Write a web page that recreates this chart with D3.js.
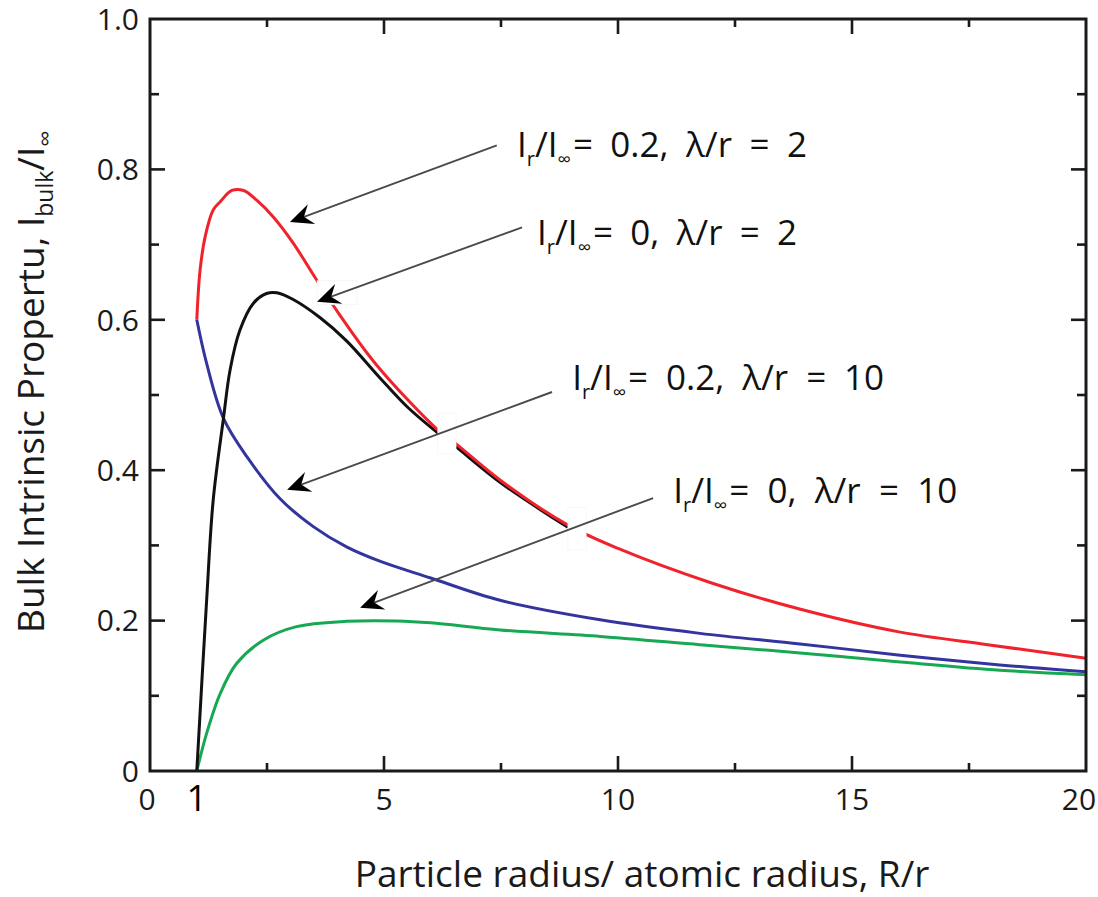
<!DOCTYPE html>
<html>
<head>
<meta charset="utf-8">
<script src="https://cdn.jsdelivr.net/npm/d3@7"></script>
<style>
  html, body { margin: 0; padding: 0; background: #fff; }
  svg { display: block; font-family: "Open Sans", "Noto Sans", sans-serif; }
</style>
</head>
<body>
<svg id="chart" width="1098" height="897"></svg>
<script>
// ---------- data ----------
const redX   = [1, 1.07, 1.18, 1.35, 1.5, 1.75, 2.0, 2.28, 2.63, 3.06, 3.56, 4.06, 4.84, 6.16, 6.52, 7.5, 8.93, 10.0, 12.0, 13.9, 16.0, 17.9, 20];
const redY   = [0.6, 0.666, 0.711, 0.746, 0.757, 0.772, 0.772, 0.759, 0.737, 0.702, 0.653, 0.606, 0.54, 0.453, 0.436, 0.386, 0.327, 0.296, 0.25, 0.215, 0.185, 0.168, 0.15];
const blackX = [1, 1.21, 1.35, 1.57, 1.71, 1.92, 2.21, 2.49, 2.71, 3.06, 3.63, 4.2, 4.91, 5.5, 6.16, 6.52, 7.5, 8.93];
const blackY = [0, 0.227, 0.36, 0.469, 0.533, 0.586, 0.622, 0.635, 0.636, 0.627, 0.603, 0.572, 0.523, 0.484, 0.449, 0.432, 0.383, 0.324];
const blueX  = [1, 1.21, 1.57, 2.07, 2.78, 3.49, 4.2, 4.91, 5.98, 7.48, 9.62, 11.75, 13.89, 16.03, 18.16, 20];
const blueY  = [0.6, 0.542, 0.469, 0.418, 0.362, 0.325, 0.298, 0.279, 0.257, 0.227, 0.201, 0.183, 0.169, 0.154, 0.141, 0.132];
const greenX = [1, 1.21, 1.5, 1.85, 2.42, 3.13, 4.2, 5.27, 6.0, 7.48, 9.62, 11.75, 13.89, 16.03, 18.16, 20];
const greenY = [0, 0.05, 0.103, 0.143, 0.174, 0.192, 0.199, 0.1995, 0.197, 0.1875, 0.179, 0.168, 0.157, 0.145, 0.134, 0.128];

const xTickLabels = ["0", "5", "10", "15", "20"];
const xTickValues = [0, 5, 10, 15, 20];
const yTickLabels = ["0", "0.2", "0.4", "0.6", "0.8", "1.0"];
const yTickValues = [0, 0.2, 0.4, 0.6, 0.8, 1.0];

// annotation labels
const annRatio  = ["0.2", "0", "0.2", "0"];
const annLambda = ["2", "2", "10", "10"];
const annX = [7.84, 8.27, 9.02, 11.18];
const annY = [0.816, 0.700, 0.507, 0.356];
// arrows (data coords): from -> to
const arrFromX = [7.41, 7.95, 8.59, 10.75];
const arrFromY = [0.832, 0.723, 0.504, 0.363];
const arrToX   = [2.99, 3.57, 2.93, 4.49];
const arrToY   = [0.730, 0.624, 0.374, 0.217];
// white masking boxes behind arrows (data coords)
const maskX0 = [6.15, 8.93, 3.57];
const maskX1 = [6.54, 9.32, 4.42];
const maskY0 = [0.4215, 0.294, 0.620];
const maskY1 = [0.476, 0.350, 0.652];

// ---------- layout ----------
const svg = d3.select("#chart");
const x = d3.scaleLinear().domain([0, 20]).range([150, 1086]);
const y = d3.scaleLinear().domain([0, 1]).range([771, 19]);
const frameColor = "#1a1a1a";
const textColor = "#1a1a1a";

// ---------- curves ----------
const line = d3.line().x(d => x(d[0])).y(d => y(d[1])).curve(d3.curveCatmullRom.alpha(0.5));
const series = [
  { xs: blueX,  ys: blueY,  color: "#34349e" },
  { xs: greenX, ys: greenY, color: "#17a853" },
  { xs: blackX, ys: blackY, color: "#111111" },
  { xs: redX,   ys: redY,   color: "#f0222c" }
];
series.forEach(s => {
  svg.append("path")
    .datum(d3.zip(s.xs, s.ys))
    .attr("d", line)
    .attr("fill", "none")
    .attr("stroke", s.color)
    .attr("stroke-width", 3)
    .attr("stroke-linejoin", "round");
});

// ---------- white masks ----------
maskX0.forEach((v, i) => {
  svg.append("rect")
    .attr("x", x(maskX0[i])).attr("y", y(maskY1[i]))
    .attr("width", x(maskX1[i]) - x(maskX0[i]))
    .attr("height", y(maskY0[i]) - y(maskY1[i]))
    .attr("fill", "#fff").attr("stroke", "#f2f2f2").attr("stroke-width", 0.6);
});

// ---------- frame & ticks ----------
const majorX = [5, 10, 15];
const minorX = [2.5, 7.5, 12.5, 17.5];
const majorY = [0.2, 0.4, 0.6, 0.8];
const minorY = [0.1, 0.3, 0.5, 0.7, 0.9];
const tickG = svg.append("g").attr("stroke", frameColor).attr("stroke-width", 2.6);
majorX.concat(minorX).forEach(v => {
  const len = majorX.includes(v) ? 15 : 8;
  tickG.append("line").attr("x1", x(v)).attr("x2", x(v)).attr("y1", y(0)).attr("y2", y(0) - len);
  tickG.append("line").attr("x1", x(v)).attr("x2", x(v)).attr("y1", y(1)).attr("y2", y(1) + len);
});
majorY.concat(minorY).forEach(v => {
  const len = majorY.includes(v) ? 15 : 9;
  tickG.append("line").attr("x1", x(0)).attr("x2", x(0) + len).attr("y1", y(v)).attr("y2", y(v));
  tickG.append("line").attr("x1", x(20)).attr("x2", x(20) - len).attr("y1", y(v)).attr("y2", y(v));
});
svg.append("rect")
  .attr("x", x(0)).attr("y", y(1))
  .attr("width", x(20) - x(0)).attr("height", y(0) - y(1))
  .attr("fill", "none").attr("stroke", frameColor).attr("stroke-width", 3);

// tick labels
const yLab = svg.append("g").attr("font-size", 30).attr("fill", textColor).attr("text-anchor", "end");
yTickValues.forEach((v, i) => {
  yLab.append("text").attr("x", 139).attr("y", y(v)).attr("dy", "0.36em").text(yTickLabels[i]);
});
const xLab = svg.append("g").attr("font-size", 30).attr("fill", textColor).attr("text-anchor", "middle");
xTickValues.forEach((v, i) => {
  let px = x(v);
  if (v === 0) px = x(0) - 3;
  if (v === 20) px = x(20) - 7;
  xLab.append("text").attr("x", px).attr("y", 810).text(xTickLabels[i]);
});
svg.append("text").attr("x", x(1)).attr("y", 811).attr("text-anchor", "middle")
  .attr("font-size", 36).attr("fill", "#000").text("1");

// axis titles
svg.append("text")
  .attr("x", 642).attr("y", 887)
  .attr("text-anchor", "middle").attr("font-size", 37).attr("fill", textColor)
  .text("Particle radius/ atomic radius, R/r");

const yt = svg.append("text")
  .attr("transform", `translate(44,633) rotate(-90)`)
  .attr("text-anchor", "start").attr("font-size", 37).attr("fill", textColor);
yt.append("tspan").text("Bulk Intrinsic Propertu, I");
yt.append("tspan").attr("font-size", 23).attr("dy", 9).text("bulk");
yt.append("tspan").attr("dy", -9).text("/I");
yt.append("tspan").attr("font-size", 23).attr("dy", 9).text("∞");

// ---------- arrows ----------
const arrowColor = "#4a4a4a";
annX.forEach((v, i) => {
  const x1 = x(arrFromX[i]), y1 = y(arrFromY[i]);
  const x2 = x(arrToX[i]), y2 = y(arrToY[i]);
  const dx = x2 - x1, dy = y2 - y1;
  const L = Math.hypot(dx, dy);
  const ux = dx / L, uy = dy / L;
  const nx = -uy, ny = ux;
  const headLen = 23, halfW = 10.5, notch = 15;
  svg.append("line")
    .attr("x1", x1).attr("y1", y1)
    .attr("x2", x2 - ux * notch).attr("y2", y2 - uy * notch)
    .attr("stroke", arrowColor).attr("stroke-width", 1.9);
  const bx = x2 - ux * headLen, by = y2 - uy * headLen;
  const pts = [
    [x2, y2],
    [bx + nx * halfW, by + ny * halfW],
    [x2 - ux * notch, y2 - uy * notch],
    [bx - nx * halfW, by - ny * halfW]
  ];
  svg.append("path").attr("d", "M" + pts.map(p => p.join(",")).join("L") + "Z")
    .attr("fill", "#000");
});

// ---------- annotation labels ----------
const annWidth = [288, 258, 310, 282];   // rendered width of each label in the reference (px)
annX.forEach((v, i) => {
  const t = svg.append("text")
    .attr("x", x(annX[i])).attr("y", y(annY[i]))
    .attr("font-size", 35).attr("fill", "#111");
  t.append("tspan").text("I");
  t.append("tspan").attr("font-size", 20).attr("dy", 9).text("r");
  t.append("tspan").attr("dy", -9).text("/I");
  t.append("tspan").attr("font-size", 19).attr("dy", 9).text("∞");
  t.append("tspan").attr("dy", -9).attr("dx", 2).text("= " + annRatio[i] + ", λ/r = " + annLambda[i]);
  const natural = t.node().getComputedTextLength();
  const ws = Math.max(0, (annWidth[i] - natural) / 4);
  t.attr("word-spacing", ws);
});
</script>
</body>
</html>
